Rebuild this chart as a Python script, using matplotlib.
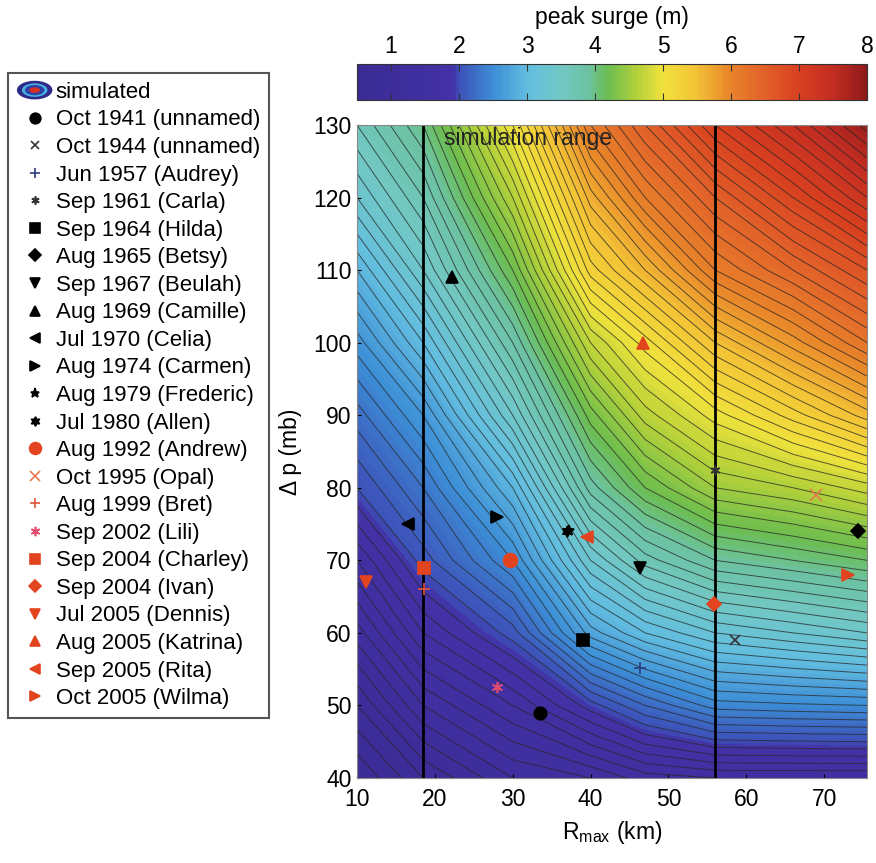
import numpy as np
import matplotlib
matplotlib.use("Agg")
import matplotlib.pyplot as plt
from matplotlib.colors import LinearSegmentedColormap
from matplotlib.legend_handler import HandlerBase
from matplotlib.patches import Ellipse

plt.rcParams['font.family'] = ['Liberation Sans', 'DejaVu Sans']
plt.rcParams['mathtext.fontset'] = 'custom'
plt.rcParams['mathtext.rm'] = 'Liberation Sans'
plt.rcParams['mathtext.it'] = 'Liberation Sans'

# simulated peak surge (m) on a coarse grid
r_grid = [10, 18.5, 30, 40, 47, 56, 66, 75.5]           # Rmax (km)
dp_grid = [40, 50, 60, 70, 80, 90, 100, 110, 120, 130]  # delta p (mb)
surge = [
    [0.60, 0.90, 1.20, 1.30, 1.45, 1.50, 1.50, 1.50],
    [0.90, 1.30, 1.60, 1.95, 2.20, 2.45, 2.48, 2.50],
    [1.25, 1.70, 2.05, 2.75, 3.00, 3.20, 3.30, 3.40],
    [1.60, 2.05, 2.50, 3.30, 3.65, 3.90, 4.00, 4.10],
    [2.00, 2.30, 2.90, 3.85, 4.20, 4.50, 4.60, 4.75],
    [2.25, 2.60, 3.40, 4.25, 4.65, 4.95, 5.25, 5.55],
    [2.55, 3.00, 3.80, 4.70, 5.05, 5.50, 5.85, 6.20],
    [2.90, 3.40, 4.20, 5.25, 5.60, 6.10, 6.40, 6.70],
    [3.30, 3.70, 4.60, 5.65, 6.10, 6.50, 6.90, 7.30],
    [3.60, 4.00, 5.00, 6.10, 6.50, 7.00, 7.40, 7.85],
]

sim_range = [18.5, 56.0]

# historical storms
storm_labels = ["Oct 1941 (unnamed)", "Oct 1944 (unnamed)", "Jun 1957 (Audrey)",
                "Sep 1961 (Carla)", "Sep 1964 (Hilda)", "Aug 1965 (Betsy)",
                "Sep 1967 (Beulah)", "Aug 1969 (Camille)", "Jul 1970 (Celia)",
                "Aug 1974 (Carmen)", "Aug 1979 (Frederic)", "Jul 1980 (Allen)",
                "Aug 1992 (Andrew)", "Oct 1995 (Opal)", "Aug 1999 (Bret)",
                "Sep 2002 (Lili)", "Sep 2004 (Charley)", "Sep 2004 (Ivan)",
                "Jul 2005 (Dennis)", "Aug 2005 (Katrina)", "Sep 2005 (Rita)",
                "Oct 2005 (Wilma)"]
storm_rmax = [33.5, 58.6, 46.4, 56.0, 39.0, 74.4, 46.4, 22.2, 16.5, 28.0, 37.2,
              37.0, 29.6, 69.0, 18.6, 28.0, 18.6, 55.9, 11.2, 46.7, 39.6, 73.1]
storm_dp = [49.0, 59.0, 55.2, 82.5, 59.0, 74.0, 69.0, 109.0, 75.0, 76.0, 74.0,
            74.0, 70.0, 79.0, 66.0, 52.6, 69.0, 64.0, 67.0, 100.0, 73.2, 68.0]
storm_marker = ['o', 'x', '+', (6, 2, 0), 's', 'D', 'v', '^', '<', '>', '*', (6, 1, 0),
                'o', 'x', '+', (6, 2, 0), 's', 'D', 'v', '^', '<', '>']
storm_color = ['k', '#333333', '#2c3c7c', '#333333'] + ['k'] * 8 + \
              ['#e2441f', '#e57a52', '#e2553a', '#e24a6e', '#e2441f',
               '#e2441f', '#e2441f', '#e2441f', '#e2441f', '#e2441f']
storm_size = [9, 7, 8, 7, 8.5, 7, 9, 9, 9, 9, 8, 8,
              10, 8, 8, 8, 8.5, 7, 9, 9, 9, 9]

# colormap
cmap_vals = [0.5, 1.9, 2.0, 2.5, 3.0, 3.5, 3.9, 4.2, 4.6, 5.0, 5.5, 6.0, 6.5, 7.0, 7.5, 8.0]
cmap_cols = ['#3a2b94', '#4331a6', '#3d50b8', '#3d8ed6', '#62bde0', '#72c8c4', '#6cc2a0',
             '#6cbd50', '#b0d03a', '#f0e23c', '#f3c236', '#e8842a', '#e2612a', '#d8401f',
             '#c42e22', '#8e1a1a']
cmap = LinearSegmentedColormap.from_list(
    'surge', [((v - 0.5) / 7.5, c) for v, c in zip(cmap_vals, cmap_cols)])


class SimIcon:
    pass


class SimHandler(HandlerBase):
    def create_artists(self, legend, orig_handle, xdescent, ydescent, width, height,
                       fontsize, trans):
        cx = width / 2 - xdescent
        cy = height / 2 - ydescent
        arts = []
        for f, c in [(1.0, '#2e2a8a'), (0.72, '#47b4e0'), (0.55, '#2f3fa8'), (0.3, '#d8301f')]:
            arts.append(Ellipse((cx, cy), width * f, height * 1.2 * f,
                                facecolor=c, edgecolor='none', transform=trans))
        return arts


fig = plt.figure(figsize=(8.76, 8.63), dpi=100)
ax = fig.add_axes([0.4075, 0.0985, 0.5822, 0.7567])
cax = fig.add_axes([0.4075, 0.884, 0.5822, 0.042])

cf = ax.contourf(r_grid, dp_grid, surge, levels=np.linspace(0.5, 8, 151), cmap=cmap)
ax.contour(r_grid, dp_grid, surge, levels=np.arange(0.6, 8.0, 0.1),
           colors='#262626', linewidths=0.7, alpha=0.75)

for xv in sim_range:
    ax.axvline(xv, color='k', lw=2)
ax.text(21.2, 128.2, 'simulation range', fontsize=16.5, va='center', color='#222222')

handles = []
for i in range(len(storm_labels)):
    h, = ax.plot(storm_rmax[i], storm_dp[i], linestyle='none', marker=storm_marker[i],
                 color=storm_color[i], ms=storm_size[i], mew=1.2, label=storm_labels[i])
    handles.append(h)

ax.set_xlim(10, 75.5)
ax.set_ylim(40, 130)
ax.set_xticks(range(10, 71, 10))
ax.set_yticks(range(40, 131, 10))
ax.tick_params(labelsize=16.5, direction='in', length=3, pad=4)
ax.tick_params(axis='x', pad=7)
for s in ax.spines.values():
    s.set_color('#888888')
ax.set_xlabel('R$_{\\mathrm{max}}$ (km)', fontsize=16.5, labelpad=6)
ax.set_ylabel('\u0394 p (mb)', fontsize=16.5, labelpad=8)

cb = fig.colorbar(cf, cax=cax, orientation='horizontal', ticks=range(1, 9))
cax.xaxis.set_ticks_position('both')
cax.xaxis.set_label_position('top')
cax.tick_params(direction='in', length=5, labeltop=True, labelbottom=False,
                labelsize=16.5, color='#333333', pad=4)
cax.set_xlabel('peak surge (m)', fontsize=16.5, labelpad=8)
cb.outline.set_edgecolor('#333333')

leg = fig.legend([SimIcon()] + handles, ['simulated'] + storm_labels,
                 handler_map={SimIcon: SimHandler()}, markerscale=0.85,
                 loc='upper left', bbox_to_anchor=(8 / 876, 1 - 73 / 863),
                 fontsize=16, handlelength=1.6, handletextpad=0.15, borderpad=0.4,
                 labelspacing=0.295, borderaxespad=0, fancybox=False, framealpha=1)
leg.get_frame().set_edgecolor('#555555')
leg.get_frame().set_linewidth(1.5)

fig.savefig('out.png', dpi=100)
